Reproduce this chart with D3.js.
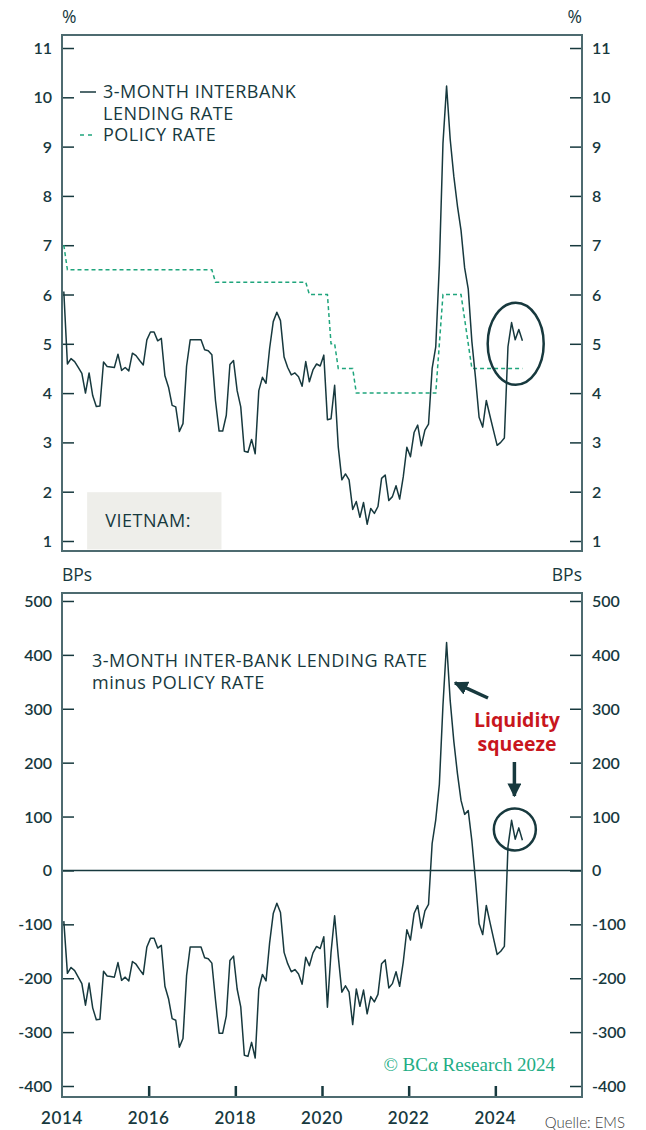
<!DOCTYPE html>
<html>
<head>
<meta charset="utf-8">
<script src="https://cdn.jsdelivr.net/npm/d3@7"></script>
<style>
  body { margin: 0; background: #fff; }
  svg text { font-family: Lato, "Noto Sans", sans-serif; }
  svg text.lbl { font-family: "Open Sans", Lato, sans-serif; }
</style>
</head>
<body>
<svg id="chart" width="646" height="1130"></svg>
<script>
// monthly series, Jan 2014 .. Aug 2024
const startYear = 2014;
const interbank = [
  6.06, 4.59, 4.70, 4.64, 4.52, 4.40, 4.00, 4.41, 3.95, 3.73, 3.74, 4.63,
  4.54, 4.53, 4.52, 4.79, 4.46, 4.52, 4.45, 4.81, 4.76, 4.66, 4.57, 5.08,
  5.24, 5.24, 5.06, 5.11, 4.35, 4.12, 3.75, 3.72, 3.22, 3.38, 4.55, 5.08,
  5.08, 5.08, 5.08, 4.88, 4.86, 4.78, 3.85, 3.23, 3.23, 3.55, 4.58, 4.66,
  4.05, 3.72, 2.82, 2.80, 3.06, 2.77, 4.05, 4.32, 4.20, 4.91, 5.45, 5.64,
  5.47, 4.73, 4.52, 4.37, 4.41, 4.33, 4.14, 4.64, 4.23, 4.47, 4.59, 4.55,
  4.77, 3.46, 3.48, 4.16, 2.91, 2.24, 2.36, 2.24, 1.64, 1.80, 1.48, 1.78,
  1.34, 1.66, 1.56, 1.70, 2.27, 2.34, 1.82, 1.90, 2.12, 1.85, 2.30, 2.90,
  2.71, 3.20, 3.35, 2.93, 3.25, 3.37, 4.50, 4.94, 6.60, 9.07, 10.23, 9.15,
  8.40, 7.80, 7.30, 6.54, 6.11, 5.05, 4.32, 3.51, 3.31, 3.85, 3.54, 3.24,
  2.94, 3.00, 3.09, 4.94, 5.43, 5.08, 5.29, 5.06
];
const policy = [
  7.00, 6.50, 6.50, 6.50, 6.50, 6.50, 6.50, 6.50, 6.50, 6.50, 6.50, 6.50,
  6.50, 6.50, 6.50, 6.50, 6.50, 6.50, 6.50, 6.50, 6.50, 6.50, 6.50, 6.50,
  6.50, 6.50, 6.50, 6.50, 6.50, 6.50, 6.50, 6.50, 6.50, 6.50, 6.50, 6.50,
  6.50, 6.50, 6.50, 6.50, 6.50, 6.50, 6.25, 6.25, 6.25, 6.25, 6.25, 6.25,
  6.25, 6.25, 6.25, 6.25, 6.25, 6.25, 6.25, 6.25, 6.25, 6.25, 6.25, 6.25,
  6.25, 6.25, 6.25, 6.25, 6.25, 6.25, 6.25, 6.25, 6.00, 6.00, 6.00, 6.00,
  6.00, 6.00, 5.00, 5.00, 4.50, 4.50, 4.50, 4.50, 4.50, 4.00, 4.00, 4.00,
  4.00, 4.00, 4.00, 4.00, 4.00, 4.00, 4.00, 4.00, 4.00, 4.00, 4.00, 4.00,
  4.00, 4.00, 4.00, 4.00, 4.00, 4.00, 4.00, 4.00, 5.00, 6.00, 6.00, 6.00,
  6.00, 6.00, 6.00, 5.50, 5.00, 4.50, 4.50, 4.50, 4.50, 4.50, 4.50, 4.50,
  4.50, 4.50, 4.50, 4.50, 4.50, 4.50, 4.50, 4.50
];
const yearTicks = [2014, 2016, 2018, 2020, 2022, 2024];
const pctTicks = [1, 2, 3, 4, 5, 6, 7, 8, 9, 10, 11];
const bpTicks = [-400, -300, -200, -100, 0, 100, 200, 300, 400, 500];

const dark = "#17393e", frameCol = "#4d6b70", green = "#1fa57c", red = "#c8161d";
const svg = d3.select("#chart");

const dates = interbank.map((d, i) => startYear + (i + 0.5) / 12);
const spread = interbank.map((d, i) => Math.round((d - policy[i]) * 100));

const x = d3.scaleLinear().domain([2014, 2026]).range([62, 582]);
const yTop = d3.scaleLinear().domain([0.797, 11.264]).range([551, 35]);
const yBot = d3.scaleLinear().domain([-420.4, 514.8]).range([1097, 593]);

function panel(y, ticks, unit) {
  const [b, t] = y.range();
  const g = svg.append("g");
  // inward ticks both sides
  g.append("g").attr("transform", `translate(${x.range()[0]},0)`)
    .call(d3.axisRight(y).tickValues(ticks).tickSize(12).tickFormat(""))
    .call(a => a.select(".domain").remove())
    .call(a => a.selectAll("line").attr("stroke", dark).attr("stroke-width", 1.5));
  g.append("g").attr("transform", `translate(${x.range()[1]},0)`)
    .call(d3.axisLeft(y).tickValues(ticks).tickSize(12).tickFormat(""))
    .call(a => a.select(".domain").remove())
    .call(a => a.selectAll("line").attr("stroke", dark).attr("stroke-width", 1.5));
  // labels
  g.selectAll(".ll").data(ticks).enter().append("text")
    .attr("x", 52).attr("y", d => y(d) + 6).attr("text-anchor", "end")
    .attr("font-size", 16).attr("font-weight", 600).attr("fill", dark).text(d => d);
  g.selectAll(".rl").data(ticks).enter().append("text")
    .attr("x", 592).attr("y", d => y(d) + 6).attr("text-anchor", "start")
    .attr("font-size", 16).attr("font-weight", 600).attr("fill", dark).text(d => d);
  g.append("text").attr("class", "lbl").attr("x", 62).attr("y", t - 12).attr("font-size", 17.5).attr("fill", dark).text(unit);
  g.append("text").attr("class", "lbl").attr("x", 582).attr("y", t - 12).attr("text-anchor", "end").attr("font-size", 17.5).attr("fill", dark).text(unit);
  return g;
}

// ---------- top panel ----------
const topG = panel(yTop, pctTicks, "%");

topG.append("rect").attr("x", x(2014.58)).attr("y", yTop(1.99)).attr("width", x(2017.68) - x(2014.58))
  .attr("height", yTop(0.83) - yTop(1.99)).attr("fill", "#eeeeea");
topG.append("text").attr("class", "lbl").attr("x", x(2015)).attr("y", yTop(1.29)).attr("font-size", 18)
  .attr("letter-spacing", 0.5).attr("fill", dark).text("VIETNAM:");

const lineTop = (arr) => d3.line().x((d, i) => x(dates[i])).y(d => yTop(d))(arr);
topG.append("path").attr("d", lineTop(policy)).attr("fill", "none").attr("stroke", green)
  .attr("stroke-width", 1.5).attr("stroke-dasharray", "4,3");
topG.append("path").attr("d", lineTop(interbank)).attr("fill", "none").attr("stroke", dark)
  .attr("stroke-width", 1.5).attr("stroke-linejoin", "round");

// legend
topG.append("line").attr("x1", 80).attr("x2", 96).attr("y1", 92).attr("y2", 92).attr("stroke", dark).attr("stroke-width", 1.5);
topG.append("line").attr("x1", 80).attr("x2", 96).attr("y1", 135).attr("y2", 135).attr("stroke", green)
  .attr("stroke-width", 1.5).attr("stroke-dasharray", "4,4");
[["3-MONTH INTERBANK", 98], ["LENDING RATE", 120], ["POLICY RATE", 141]].forEach(([t, yy]) => {
  topG.append("text").attr("class", "lbl").attr("x", 103).attr("y", yy).attr("font-size", 18)
    .attr("letter-spacing", 0.5).attr("fill", dark).text(t);
});

topG.append("ellipse").attr("cx", x(2024.47)).attr("cy", yTop(5.0)).attr("rx", 28).attr("ry", 41)
  .attr("fill", "none").attr("stroke", dark).attr("stroke-width", 2.5);

topG.append("rect").attr("x", 62).attr("y", 35).attr("width", 520).attr("height", 516)
  .attr("fill", "none").attr("stroke", frameCol).attr("stroke-width", 2);

// ---------- bottom panel ----------
const botG = panel(yBot, bpTicks, "BPs");

botG.append("line").attr("x1", 62).attr("x2", 582).attr("y1", yBot(0)).attr("y2", yBot(0))
  .attr("stroke", dark).attr("stroke-width", 1.5);

botG.append("path").attr("d", d3.line().x((d, i) => x(dates[i])).y(d => yBot(d))(spread))
  .attr("fill", "none").attr("stroke", dark).attr("stroke-width", 1.5).attr("stroke-linejoin", "round");

// x ticks (inward) and labels
botG.append("g").attr("transform", "translate(0,1097)")
  .call(d3.axisTop(x).tickValues(yearTicks.slice(1)).tickSize(11).tickFormat(""))
  .call(a => a.select(".domain").remove())
  .call(a => a.selectAll("line").attr("stroke", dark).attr("stroke-width", 2.5));
botG.selectAll(".yr").data(yearTicks).enter().append("text")
  .attr("x", d => x(d)).attr("y", 1124).attr("text-anchor", "middle")
  .attr("font-size", 17).attr("font-weight", 600).attr("letter-spacing", 0.6).attr("fill", dark).text(d => d);

botG.append("text").attr("class", "lbl").attr("x", 92).attr("y", 667).attr("font-size", 18)
  .attr("letter-spacing", 0.5).attr("fill", dark).text("3-MONTH INTER-BANK LENDING RATE");
botG.append("text").attr("class", "lbl").attr("x", 92).attr("y", 689).attr("font-size", 18)
  .attr("letter-spacing", 0.5).attr("fill", dark).text("minus POLICY RATE");

botG.append("text").attr("class", "lbl").attr("x", 517).attr("y", 727).attr("text-anchor", "middle").attr("font-size", 19.5)
  .attr("font-weight", 700).attr("fill", red).text("Liquidity");
botG.append("text").attr("class", "lbl").attr("x", 517).attr("y", 751).attr("text-anchor", "middle").attr("font-size", 19.5)
  .attr("font-weight", 700).attr("fill", red).text("squeeze");

svg.append("defs").append("marker").attr("id", "head").attr("viewBox", "0 0 10 10")
  .attr("refX", 9).attr("refY", 5).attr("markerWidth", 4).attr("markerHeight", 4).attr("orient", "auto")
  .attr("markerUnits", "strokeWidth")
  .append("path").attr("d", "M0,0 L10,5 L0,10 z").attr("fill", dark);

botG.append("line").attr("x1", x(2024.44)).attr("x2", x(2024.44)).attr("y1", 762).attr("y2", 796)
  .attr("stroke", dark).attr("stroke-width", 3.5).attr("marker-end", "url(#head)");
botG.append("line").attr("x1", 488).attr("y1", yBot(320)).attr("x2", 455).attr("y2", yBot(348))
  .attr("stroke", dark).attr("stroke-width", 3.5).attr("marker-end", "url(#head)");

botG.append("circle").attr("cx", x(2024.45)).attr("cy", yBot(76)).attr("r", 21)
  .attr("fill", "none").attr("stroke", dark).attr("stroke-width", 2.5);

botG.append("text").attr("x", 555).attr("y", 1071).attr("text-anchor", "end")
  .style("font-family", "'Liberation Serif', serif")
  .attr("font-size", 19).attr("fill", "#22ad85").text("© BCα Research 2024");

botG.append("rect").attr("x", 62).attr("y", 593).attr("width", 520).attr("height", 504)
  .attr("fill", "none").attr("stroke", frameCol).attr("stroke-width", 2);

svg.append("text").attr("x", 625).attr("y", 1128).attr("text-anchor", "end").attr("font-size", 15)
  .attr("font-weight", 300).attr("fill", "#3a3a3a").text("Quelle: EMS");
</script>
</body>
</html>
